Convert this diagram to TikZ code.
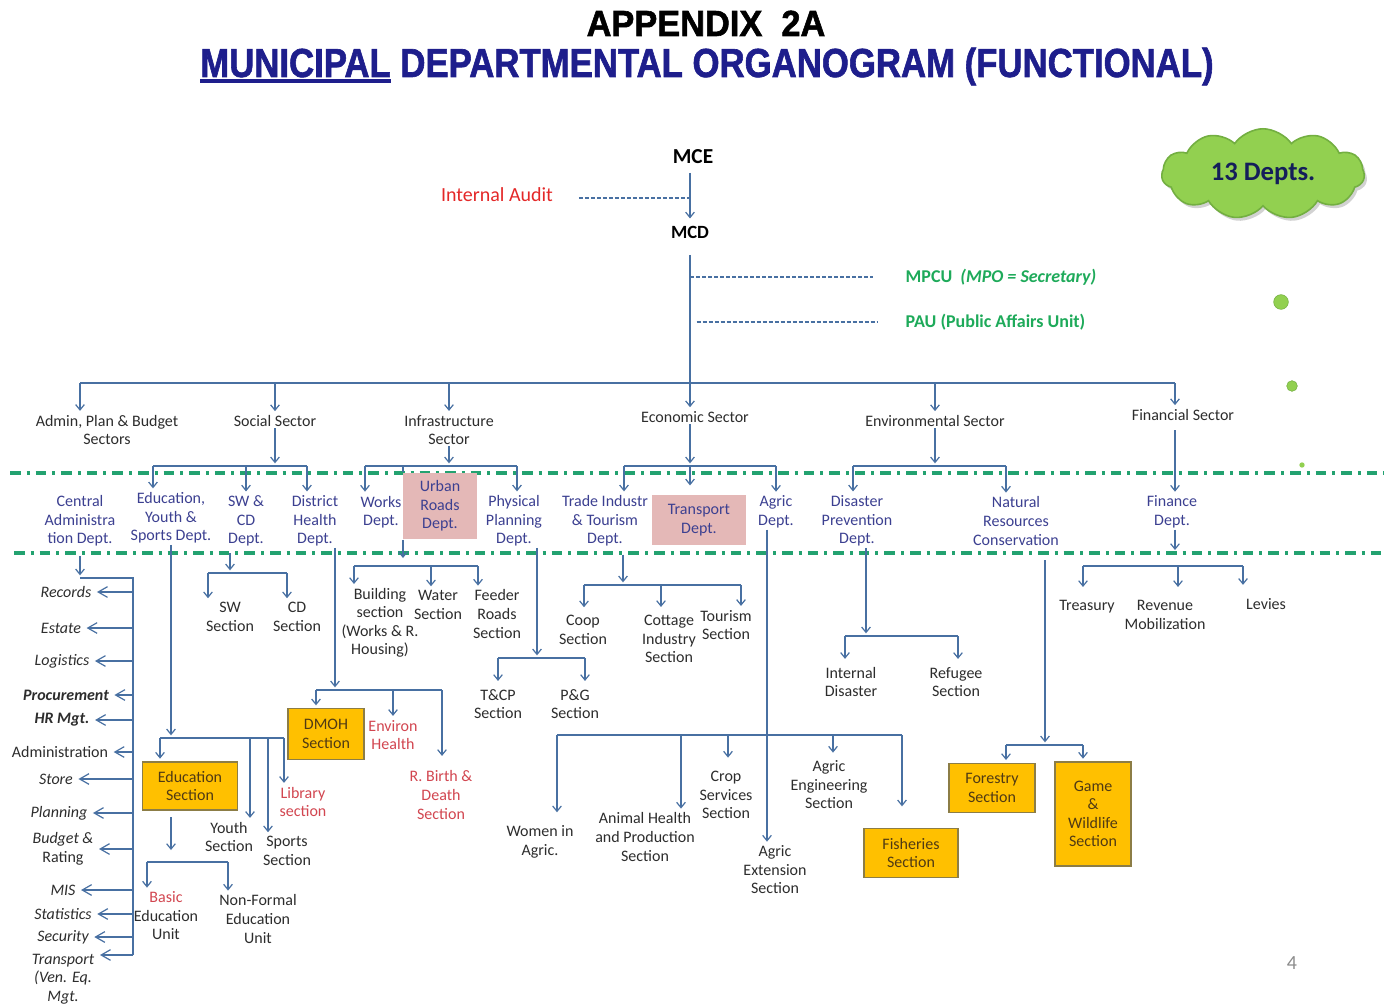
\documentclass[tikz,border=0pt]{standalone}
\usepackage{fontspec}
\setmainfont{Carlito}
\newfontfamily\headfont[FakeBold=1.6, BoldFeatures={FakeBold=1.6}]{Liberation Sans}
\usetikzlibrary{arrows.meta, shapes.symbols, shadows}

\definecolor{linecol}{RGB}{72,112,162}
\definecolor{txtgray}{RGB}{45,45,45}
\definecolor{deptblue}{RGB}{60,64,145}
\definecolor{unitred}{RGB}{210,70,80}
\definecolor{auditred}{RGB}{228,40,40}
\definecolor{unitgreen}{RGB}{30,170,90}
\definecolor{sepgreen}{RGB}{35,162,112}
\definecolor{pinkfill}{RGB}{228,184,183}
\definecolor{orangefill}{RGB}{255,192,0}
\definecolor{orangeline}{RGB}{140,125,70}
\definecolor{boxtext}{RGB}{80,58,20}
\definecolor{titleblue}{RGB}{30,30,140}
\definecolor{cloudfill}{RGB}{146,208,80}
\definecolor{cloudline}{RGB}{115,175,65}
\definecolor{cloudtext}{RGB}{20,30,90}

\newcommand\ulword[1]{\setbox0\hbox{#1}\rlap{\rule[-1.7pt]{\wd0}{1pt}}\box0\relax}

\begin{document}
\begin{tikzpicture}[x=0.75pt, y=-0.75pt, font=\fontsize{12}{13.9}\selectfont]
    \tikzstyle{sector} = [text=txtgray, align=center, inner sep=1pt]
    \tikzstyle{dept} = [text=deptblue, align=center, inner sep=1pt]
    \tikzstyle{unit} = [text=txtgray, align=center, inner sep=1pt]
    \tikzstyle{redunit} = [text=unitred, align=center, inner sep=1pt]
    \tikzstyle{sidelabel} = [text=txtgray, align=center, inner sep=1pt, font=\fontsize{12}{13.9}\selectfont\itshape]
    \tikzstyle{pinkbox} = [rectangle, fill=pinkfill, text=deptblue, align=center, inner sep=1pt]
    \tikzstyle{orangebox} = [rectangle, draw=orangeline, line width=1pt, fill=orangefill, text=boxtext, align=center, inner sep=1pt]
    \tikzstyle{link} = [draw=linecol, line width=0.9pt]
    \tikzstyle{arrow} = [link, -{Straight Barb[length=4pt,width=6.5pt]}, shorten >=2pt]
    \tikzstyle{leftarrow} = [link, -{Straight Barb[length=7pt,width=8pt]}, shorten >=3pt]
    \tikzstyle{dashlink} = [draw=linecol, line width=1.2pt, dash pattern=on 3pt off 1.5pt]
    \tikzstyle{sepline} = [draw=sepgreen, line width=2.6pt, dash pattern=on 8pt off 4.5pt on 2.2pt off 4.5pt]

    \fill[white] (0,0) rectangle (1384,1005);
    \useasboundingbox (0,0) rectangle (1384,1005);

    % separators between the levels
    \draw[sepline] (10,473) -- (1384,473);
    \draw[sepline] (14,553) -- (1384,553);

    % title
    \node[anchor=base, inner sep=0pt] (appendix) at (706,36) {\resizebox{179pt}{19pt}{\headfont\bfseries APPENDIX\ \ 2A}};
    \node[anchor=base, inner sep=0pt, text=titleblue] (title) at (707,77) {\resizebox{760pt}{22pt}{\headfont\bfseries\ulword{MUNICIPAL} DEPARTMENTAL ORGANOGRAM (FUNCTIONAL)}};

    % top of the chart
    \node[font=\fontsize{16}{18}\selectfont\bfseries] (mce) at (693,157) {MCE};
    \node[font=\fontsize{14}{16}\selectfont\bfseries] (mcd) at (690,232) {MCD};
    \node[text=auditred, font=\fontsize{15}{17}\selectfont] (audit) at (497,195) {Internal Audit};
    \node[anchor=west, text=unitgreen, font=\fontsize{13.5}{16}\selectfont\bfseries] (mpcu) at (901,277) {MPCU~~\textit{(MPO = Secretary)}};
    \node[anchor=west, text=unitgreen, font=\fontsize{13.5}{16}\selectfont\bfseries] (pau) at (901,322) {PAU (Public Affairs Unit)};

    \node[cloud, cloud puffs=11, cloud puff arc=110, aspect=2.3, draw=cloudline, line width=1.2pt, fill=cloudfill,
          minimum width=152pt, minimum height=64pt, text=cloudtext, font=\fontsize{20}{22}\selectfont\bfseries,
          drop shadow={opacity=0.35, shadow xshift=2pt, shadow yshift=-2.5pt}] (depts) at (1263,174) {13 Depts.};
    \node[circle, fill=cloudfill, draw=cloudline, minimum size=11pt, inner sep=0pt] (dot1) at (1281,302) {};
    \node[circle, fill=cloudfill, draw=cloudline, minimum size=8pt, inner sep=0pt] (dot2) at (1292,386) {};
    \node[circle, fill=cloudfill, minimum size=4pt, inner sep=0pt] (dot3) at (1302,465) {};

    % sectors
    \node[sector] (adminsec) at (107,430) {Admin, Plan \& Budget\\Sectors};
    \node[sector] (socsec) at (275,421) {Social Sector};
    \node[sector] (infsec) at (449,430) {Infrastructure\\Sector};
    \node[sector] (econsec) at (695,417) {Economic Sector};
    \node[sector] (envsec) at (935,421) {Environmental Sector};
    \node[sector] (finsec) at (1183,415) {Financial Sector};

    % departments
    \node[dept] (cad) at (80,521) {Central\\Administra\\tion Dept.};
    \node[dept] (eys) at (171,518) {Education,\\Youth \&\\Sports Dept.};
    \node[dept] (swcd) at (246,521) {SW \&\\CD\\Dept.};
    \node[dept] (dhd) at (315,521) {District\\Health\\Dept.};
    \node[dept] (works) at (381,512) {Works\\Dept.};
    \node[pinkbox, minimum width=56pt, minimum height=50pt] (urban) at (440,506) {Urban\\Roads\\Dept.};
    \node[dept] (ppd) at (514,521) {Physical\\Planning\\Dept.};
    \node[dept] (trade) at (605,521) {Trade Industr\\\& Tourism\\Dept.};
    \node[pinkbox, minimum width=70.5pt, minimum height=37.5pt] (transport) at (699,520) {Transport\\Dept.};
    \node[dept] (agric) at (776,512) {Agric\\Dept.};
    \node[dept] (dpd) at (857,521) {Disaster\\Prevention\\Dept.};
    \node[dept] (nrc) at (1016,521) {Natural\\Resources\\Conservation};
    \node[dept] (fin) at (1172,512) {Finance\\Dept.};

    % admin units
    \node[sidelabel] (rec) at (66,592) {Records};
    \node[sidelabel] (est) at (61,628) {Estate};
    \node[sidelabel] (logi) at (62,661) {Logistics};
    \node[sidelabel] (proc) at (66,695) {\bfseries Procurement};
    \node[sidelabel] (hrm) at (62,720) {\bfseries HR Mgt.};
    \node[sidelabel] (admn) at (60,752) {\upshape Administration};
    \node[sidelabel] (store) at (56,779) {Store};
    \node[sidelabel] (plan) at (59,813) {Planning};
    \node[sidelabel] (budget) at (63,849) {Budget \&\\\upshape Rating};
    \node[sidelabel] (mis) at (63,890) {MIS};
    \node[sidelabel] (stat) at (63,914) {Statistics};
    \node[sidelabel] (secu) at (63,937) {Security};
    \node[sidelabel] (transp) at (63,979) {Transport\\(Ven. Eq.\\Mgt.};
    \coordinate (transtip) at (100,955);

    % social units
    \node[orangebox, minimum width=71pt, minimum height=36pt] (edusec) at (190,786) {Education\\Section};
    \node[unit] (youth) at (229,837) {Youth\\Section};
    \node[unit] (sports) at (287,851) {Sports\\Section};
    \node[redunit] (library) at (303,802) {Library\\section};
    \node[unit] (basic) at (166,916) {{\color{unitred}Basic}\\Education\\Unit};
    \node[unit] (nonformal) at (258,919) {Non-Formal\\Education\\Unit};
    \node[unit] (swsec) at (230,617) {SW\\Section};
    \node[unit] (cdsec) at (297,617) {CD\\Section};
    \node[orangebox, minimum width=57pt, minimum height=38pt] (dmoh) at (326,734) {DMOH\\Section};
    \node[redunit] (environ) at (393,735) {Environ\\Health};
    \node[redunit] (rbirth) at (441,795) {R. Birth \&\\Death\\Section};

    % infrastructure units
    \node[unit] (building) at (380,623) {Building\\section\\(Works \& R.\\Housing)};
    \node[unit] (water) at (438,605) {Water\\Section};
    \node[unit] (feeder) at (497,614) {Feeder\\Roads\\Section};
    \node[unit] (tcp) at (498,704) {T\&CP\\Section};
    \node[unit] (pg) at (575,704) {P\&G\\Section};

    % economic units
    \node[unit] (coop) at (583,630) {Coop\\Section};
    \node[unit] (cottage) at (669,639) {Cottage\\Industry\\Section};
    \node[unit] (tourism) at (726,625) {Tourism\\Section};
    \node[unit] (women) at (540,842) {Women in\\Agric.};
    \node[unit] (animal) at (645,837) {Animal Health\\and Production\\Section};
    \node[unit] (crop) at (726,795) {Crop\\Services\\Section};
    \node[unit] (extension) at (775,870) {Agric\\Extension\\Section};
    \node[unit] (engineering) at (829,785) {Agric\\Engineering\\Section};
    \node[orangebox, minimum width=70.5pt, minimum height=37pt] (fisheries) at (911,853) {Fisheries\\Section};

    % environmental units
    \node[unit] (internal) at (851,682) {Internal\\Disaster};
    \node[unit] (refugee) at (956,682) {Refugee\\Section};
    \node[orangebox, minimum width=64.5pt, minimum height=37pt] (forestry) at (992,788) {Forestry\\Section};
    \node[orangebox, minimum width=57pt, minimum height=78pt] (game) at (1093,814) {Game\\\&\\Wildlife\\Section};

    % financial units
    \node[unit] (treasury) at (1087,607) {Treasury};
    \node[unit] (revenue) at (1165,615) {Revenue\\Mobilization};
    \node[unit] (levies) at (1266,604) {Levies};

    \node[text=black!45, font=\fontsize{15}{17}\selectfont] (pageno) at (1292,963) {4};

    % MCE, MCD and staff units
    \coordinate (auditj) at (690,198);
    \coordinate (topbarw) at (80,383);
    \coordinate (topbare) at (1175,383);
    \draw[arrow, shorten <=3pt] (mcd |- mce.south) -- (mcd.north);
    \draw[dashlink, shorten <=16pt] (audit.east |- auditj) -- (auditj);
    \draw[link, shorten <=9pt] (mcd.south) -- (mcd |- topbarw);
    \draw[dashlink] (mcd |- mpcu) -- ([xshift=-21pt]mpcu.west);
    \draw[dashlink, shorten <=5pt] (mcd |- pau) -- ([xshift=-18pt]pau.west);

    % sectors
    \draw[link] (topbarw) -- (topbare);
    \draw[arrow] (topbarw) -- (topbarw |- adminsec.north);
    \draw[arrow] (socsec.north |- topbarw) -- (socsec.north);
    \draw[arrow] (infsec.north |- topbarw) -- (infsec.north);
    \draw[arrow] (mcd |- topbarw) -- (mcd |- econsec.north);
    \draw[arrow] (envsec.north |- topbarw) -- (envsec.north);
    \draw[arrow] (topbare) -- (topbare |- finsec.north);

    % sectors to departments
    \coordinate (socL) at (153,466); \coordinate (socR) at (307,466);
    \draw[arrow] (socsec.south) -- (socsec.south |- socL);
    \draw[link] (socL) -- (socR);
    \draw[arrow] (socL) -- (socL |- eys.north);
    \draw[arrow] (swcd.north |- socL) -- (swcd.north);
    \draw[arrow] (socR) -- (socR |- dhd.north);

    \coordinate (infL) at (365,466); \coordinate (infU) at (403,466); \coordinate (infR) at (517,466);
    \draw[arrow] (infsec.south) -- (infsec.south |- infL);
    \draw[link] (infL) -- (infR);
    \draw[arrow] (infL) -- (infL |- works.north);
    \draw[link] (infU) -- (infU |- urban.north);
    \draw[arrow] (infR) -- (infR |- ppd.north);

    \coordinate (ecoL) at (624,466); \coordinate (ecoR) at (776,466);
    \draw[arrow] (mcd |- econsec.south) -- (mcd |- ecoL);
    \draw[link] (ecoL) -- (ecoR);
    \draw[arrow] (ecoL) -- (ecoL |- trade.north);
    \draw[arrow, shorten >=7pt] (mcd |- ecoL) -- (mcd |- transport.north);
    \draw[arrow] (ecoR) -- (ecoR |- agric.north);

    \coordinate (envL) at (853,466); \coordinate (envR) at (1006,466);
    \draw[arrow] (envsec.south) -- (envsec.south |- envL);
    \draw[link] (envL) -- (envR);
    \draw[arrow] (envL) -- (envL |- dpd.north);
    \draw[arrow] (envR) -- (envR |- nrc.north);

    \draw[arrow, shorten <=6pt] (topbare |- finsec.south) -- (topbare |- fin.north);

    % admin units
    \coordinate (admV) at (133,578);
    \draw[arrow, shorten <=6pt] (cad.south) -- (cad.south |- admV);
    \draw[link] (cad.south |- admV) -- (admV) -- (admV |- transtip);
    \foreach \lab in {rec, est, logi, proc, hrm, admn, store, plan, budget, mis, stat, secu}
        \draw[leftarrow] (admV |- \lab.east) -- (\lab.east);
    \draw[leftarrow, shorten >=0pt] (admV |- transtip) -- (transtip);

    % social units
    \coordinate (eduL) at (160,738); \coordinate (eduR) at (284,738);
    \coordinate (youthj) at (250,738); \coordinate (sportsj) at (268,738);
    \draw[arrow] (eys.south) -- (eys.south |- eduL);
    \draw[link] (eduL) -- (eduR);
    \draw[arrow] (eduL) -- (eduL |- edusec.north);
    \draw[arrow] (youthj) -- (youthj |- youth.north);
    \draw[arrow] (sportsj) -- (sportsj |- sports.north);
    \draw[arrow] (eduR) -- (eduR |- library.north);

    \coordinate (basL) at (147,862); \coordinate (basM) at (171,862); \coordinate (basR) at (228,862);
    \draw[arrow, shorten <=5pt, shorten >=9pt] (basM |- edusec.south) -- (basM);
    \draw[link] (basL) -- (basR);
    \draw[arrow] (basL) -- (basL |- basic.north);
    \draw[arrow] (basR) -- (basR |- nonformal.north);

    \coordinate (swL) at (208,573); \coordinate (swM) at (230,573); \coordinate (swR) at (287,573);
    \draw[arrow, shorten <=4pt] (swM |- swcd.south) -- (swM);
    \draw[link] (swL) -- (swR);
    \draw[arrow] (swL) -- (swL |- swsec.north);
    \draw[arrow] (swR) -- (swR |- cdsec.north);

    \coordinate (dhL) at (316,690); \coordinate (dhM) at (335,690); \coordinate (dhR) at (442,690);
    \draw[arrow] (dhM |- dhd.south) -- (dhM);
    \draw[link] (dhL) -- (dhR);
    \draw[arrow] (dhL) -- (dhL |- dmoh.north);
    \draw[arrow] (environ.north |- dhL) -- (environ.north);
    \draw[arrow, shorten >=10pt] (dhR) -- (dhR |- rbirth.north);

    % infrastructure units
    \coordinate (urbL) at (354,566); \coordinate (urbM) at (403,566);
    \coordinate (urbW) at (431,566); \coordinate (urbR) at (478,566);
    \draw[arrow, shorten >=6pt] (urbM |- urban.south) -- (urbM);
    \draw[link] (urbL) -- (urbR);
    \draw[arrow] (urbL) -- (urbL |- building.north);
    \draw[arrow] (urbW) -- (urbW |- water.north);
    \draw[arrow] (urbR) -- (urbR |- feeder.north);

    \coordinate (ppL) at (498,658); \coordinate (ppM) at (537,658); \coordinate (ppR) at (585,658);
    \draw[arrow] (ppM |- ppd.south) -- (ppM);
    \draw[link] (ppL) -- (ppR);
    \draw[arrow, shorten >=5pt] (ppL) -- (ppL |- tcp.north);
    \draw[arrow, shorten >=5pt] (ppR) -- (ppR |- pg.north);

    % economic units
    \coordinate (trL) at (584,585); \coordinate (trM) at (623,585);
    \coordinate (trC) at (661,585); \coordinate (trR) at (741,585);
    \draw[arrow, shorten <=5pt] (trM |- trade.south) -- (trM);
    \draw[link] (trL) -- (trR);
    \draw[arrow, shorten >=5pt] (trL) -- (trL |- coop.north);
    \draw[arrow, shorten >=5pt] (trC) -- (trC |- cottage.north);
    \draw[arrow] (trR) -- (trR |- tourism.north);

    \coordinate (agL) at (557,735); \coordinate (agA) at (681,735); \coordinate (agC) at (728,735);
    \coordinate (agV) at (767,735); \coordinate (agE) at (833,735); \coordinate (agR) at (902,735);
    \draw[arrow] (agV |- agric.south) -- (agV |- extension.north);
    \draw[link] (agL) -- (agR);
    \draw[arrow, shorten >=9pt] (agL) -- (agL |- women.north);
    \draw[arrow] (agA) -- (agA |- animal.north);
    \draw[arrow, shorten >=9pt] (agC) -- (agC |- crop.north);
    \draw[arrow, shorten >=5pt] (agE) -- (agE |- engineering.north);
    \draw[arrow, shorten >=16pt] (agR) -- (agR |- fisheries.north);

    % environmental units
    \coordinate (dpL) at (845,636); \coordinate (dpM) at (866,636); \coordinate (dpR) at (958,636);
    \draw[arrow] (dpM |- dpd.south) -- (dpM);
    \draw[link] (dpL) -- (dpR);
    \draw[arrow, shorten >=5pt] (dpL) -- (dpL |- internal.north);
    \draw[arrow, shorten >=5pt] (dpR) -- (dpR |- refugee.north);

    \coordinate (nrL) at (1006,745); \coordinate (nrM) at (1045,745); \coordinate (nrR) at (1083,745);
    \draw[arrow, shorten <=10pt] (nrM |- nrc.south) -- (nrM);
    \draw[link] (nrL) -- (nrR);
    \draw[arrow] (nrL) -- (nrL |- forestry.north);
    \draw[arrow] (nrR) -- (nrR |- game.north);

    % financial units
    \coordinate (fnL) at (1083,566); \coordinate (fnM) at (1178,566); \coordinate (fnR) at (1243,566);
    \draw[arrow, shorten >=12pt] (topbare |- fin.south) -- (topbare |- fnM);
    \draw[link] (fnL) -- (fnR);
    \draw[arrow, shorten >=9pt] (fnL) -- (fnL |- treasury.north);
    \draw[arrow, shorten >=9pt] (fnM) -- (fnM |- revenue.north);
    \draw[arrow, shorten >=9pt] (fnR) -- (fnR |- levies.north);
\end{tikzpicture}
\end{document}
